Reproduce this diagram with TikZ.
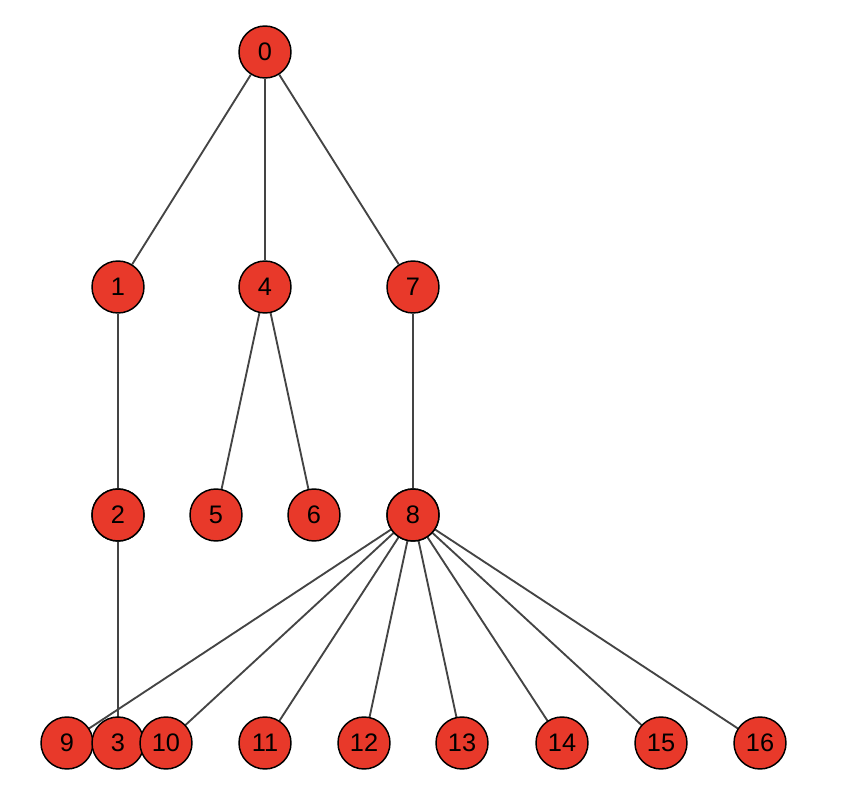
\documentclass[tikz,border=0pt]{standalone}
\usepackage{fontspec}
\setmainfont{Liberation Sans}
\definecolor{nodered}{HTML}{E8392A}
\definecolor{edgegray}{HTML}{444444}
\begin{document}
\begin{tikzpicture}[x=0.75pt,y=-0.75pt,
  vtx/.style={circle,draw=black,line width=1.1pt,fill=nodered,minimum size=39pt,inner sep=0pt,font=\fontsize{19}{19}\selectfont},
  edge/.style={draw=edgegray,line width=1.4pt}]
\useasboundingbox (0,0) rectangle (842,802);
\coordinate (c0) at (265,52);
\node[vtx] (n0) at (265,52) {0};
\node[vtx] (n1) at (118,287) {1};
\node[vtx] (n4) at (265,287) {4};
\node[vtx] (n7) at (413,287) {7};
\node[vtx] (n2) at (118,515) {2};
\node[vtx] (n5) at (216,515) {5};
\node[vtx] (n6) at (314,515) {6};
\node[vtx] (n8) at (413,515) {8};
\begin{scope}[on background layer/.try]
\end{scope}
\path (67,743) coordinate (p9) (118,743) coordinate (p3) (166,743) coordinate (p10)
 (265,743) coordinate (p11) (364,743) coordinate (p12) (462,743) coordinate (p13)
 (562,743) coordinate (p14) (661,743) coordinate (p15) (760,743) coordinate (p16);
\foreach \a/\b in {n0/n1,n0/n4,n0/n7,n1/n2,n4/n5,n4/n6,n7/n8}
  \draw[edge] (\a) -- (\b);
\draw[edge] (n2.center) -- (p3);
\foreach \b in {p9,p10,p11,p12,p13,p14,p15,p16}
  \draw[edge] (n8.center) -- (\b);
\node[vtx] (n8b) at (413,515) {8};
\node[vtx] (n2b) at (118,515) {2};
\node[vtx] (n9) at (p9) {9};
\node[vtx] (n3) at (p3) {3};
\node[vtx] (n10) at (p10) {10};
\node[vtx] (n11) at (p11) {11};
\node[vtx] (n12) at (p12) {12};
\node[vtx] (n13) at (p13) {13};
\node[vtx] (n14) at (p14) {14};
\node[vtx] (n15) at (p15) {15};
\node[vtx] (n16) at (p16) {16};
\end{tikzpicture}
\end{document}
